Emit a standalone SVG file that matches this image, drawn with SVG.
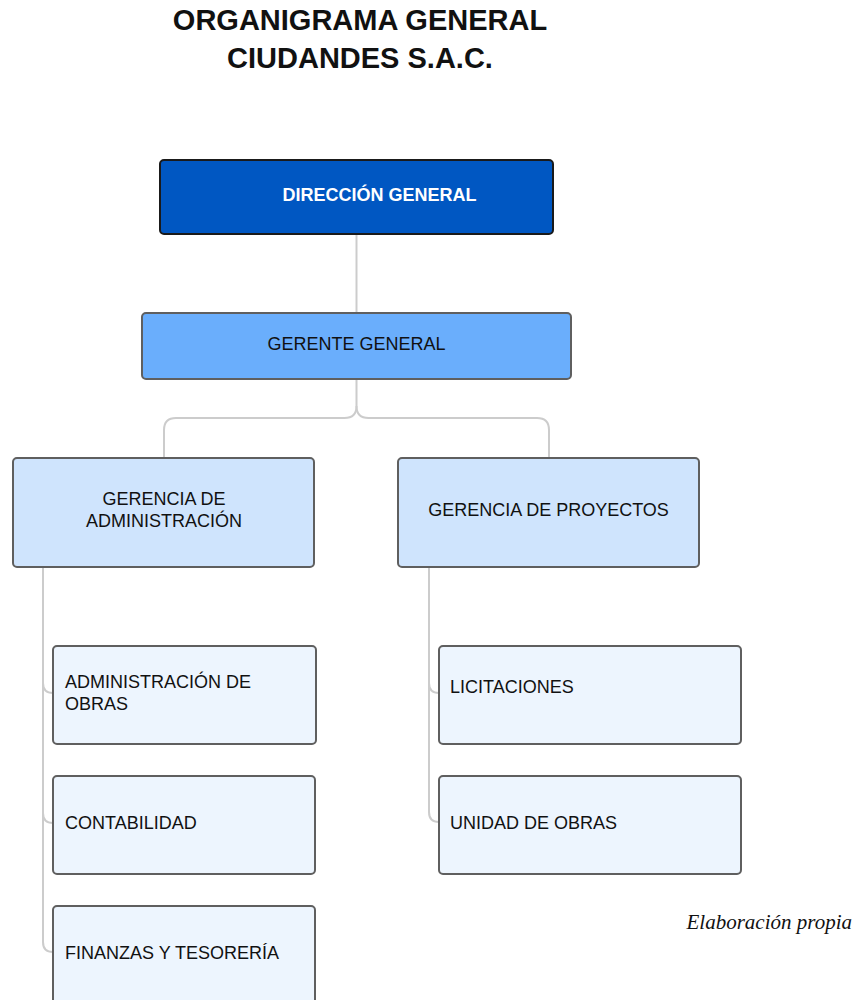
<svg xmlns="http://www.w3.org/2000/svg" width="855" height="1000" viewBox="0 0 855 1000">
<style>
.title{font-family:"Liberation Sans",Arial,sans-serif;font-weight:bold;font-size:29px;fill:#111;text-anchor:middle}
.lbl{font-family:"Liberation Sans",Arial,sans-serif;font-size:18px;fill:#111}
.c{text-anchor:middle}
.conn{fill:none;stroke:#cccccc;stroke-width:2}
.n3{fill:#cfe4fd;stroke:#5f5f5f;stroke-width:2}
.n4{fill:#edf5fe;stroke:#5f5f5f;stroke-width:2}
</style>
<rect width="855" height="1000" fill="#ffffff"/>
<text class="title" x="360" y="30">ORGANIGRAMA GENERAL</text>
<text class="title" x="360" y="68">CIUDANDES S.A.C.</text>
<g id="connectors">
<path class="conn" d="M356.5 234 V313"/>
<path class="conn" d="M356.5 379 V406 Q356.5 418 344.5 418 H176 Q164 418 164 430 V458"/>
<path class="conn" d="M356.5 406 Q356.5 418 368.5 418 H537 Q549 418 549 430 V458"/>
<path class="conn" d="M43 567 V942 Q43 952 53 952"/>
<path class="conn" d="M43 683 Q43 693 53 693"/>
<path class="conn" d="M43 813 Q43 823 53 823"/>
<path class="conn" d="M429 567 V812 Q429 822 439 822"/>
<path class="conn" d="M429 683 Q429 693 439 693"/>
</g>
<g id="direccion">
<rect x="160" y="160" width="393" height="74" rx="4" fill="#0057c2" stroke="#1a1a1a" stroke-width="2"/>
<text class="lbl c" x="379.5" y="201" style="fill:#ffffff;font-weight:bold">DIRECCIÓN GENERAL</text>
</g>
<g id="gerente">
<rect x="142" y="313" width="429" height="66" rx="4" fill="#6aaefc" stroke="#5f5f5f" stroke-width="2"/>
<text class="lbl c" x="356.5" y="350">GERENTE GENERAL</text>
</g>
<g id="ger-admin">
<rect class="n3" x="13" y="458" width="301" height="109" rx="4"/>
<text class="lbl c" x="164" y="505">GERENCIA DE</text>
<text class="lbl c" x="164" y="527">ADMINISTRACIÓN</text>
</g>
<g id="ger-proy">
<rect class="n3" x="398" y="458" width="301" height="109" rx="4"/>
<text class="lbl c" x="548.5" y="516">GERENCIA DE PROYECTOS</text>
</g>
<g id="admin-obras">
<rect class="n4" x="53" y="646" width="263" height="98" rx="4"/>
<text class="lbl" x="65" y="688">ADMINISTRACIÓN DE</text>
<text class="lbl" x="65" y="710">OBRAS</text>
</g>
<g id="contabilidad">
<rect class="n4" x="53" y="776" width="262" height="98" rx="4"/>
<text class="lbl" x="65" y="829">CONTABILIDAD</text>
</g>
<g id="finanzas">
<rect class="n4" x="53" y="906" width="262" height="110" rx="4"/>
<text class="lbl" x="65" y="959">FINANZAS Y TESORERÍA</text>
</g>
<g id="licitaciones">
<rect class="n4" x="439" y="646" width="302" height="98" rx="4"/>
<text class="lbl" x="450" y="693">LICITACIONES</text>
</g>
<g id="unidad-obras">
<rect class="n4" x="439" y="776" width="302" height="98" rx="4"/>
<text class="lbl" x="450" y="829">UNIDAD DE OBRAS</text>
</g>
<text x="852" y="929" text-anchor="end" style="font-family:'Liberation Serif','Times New Roman',serif;font-style:italic;font-size:21px;fill:#111">Elaboración propia</text>
</svg>
